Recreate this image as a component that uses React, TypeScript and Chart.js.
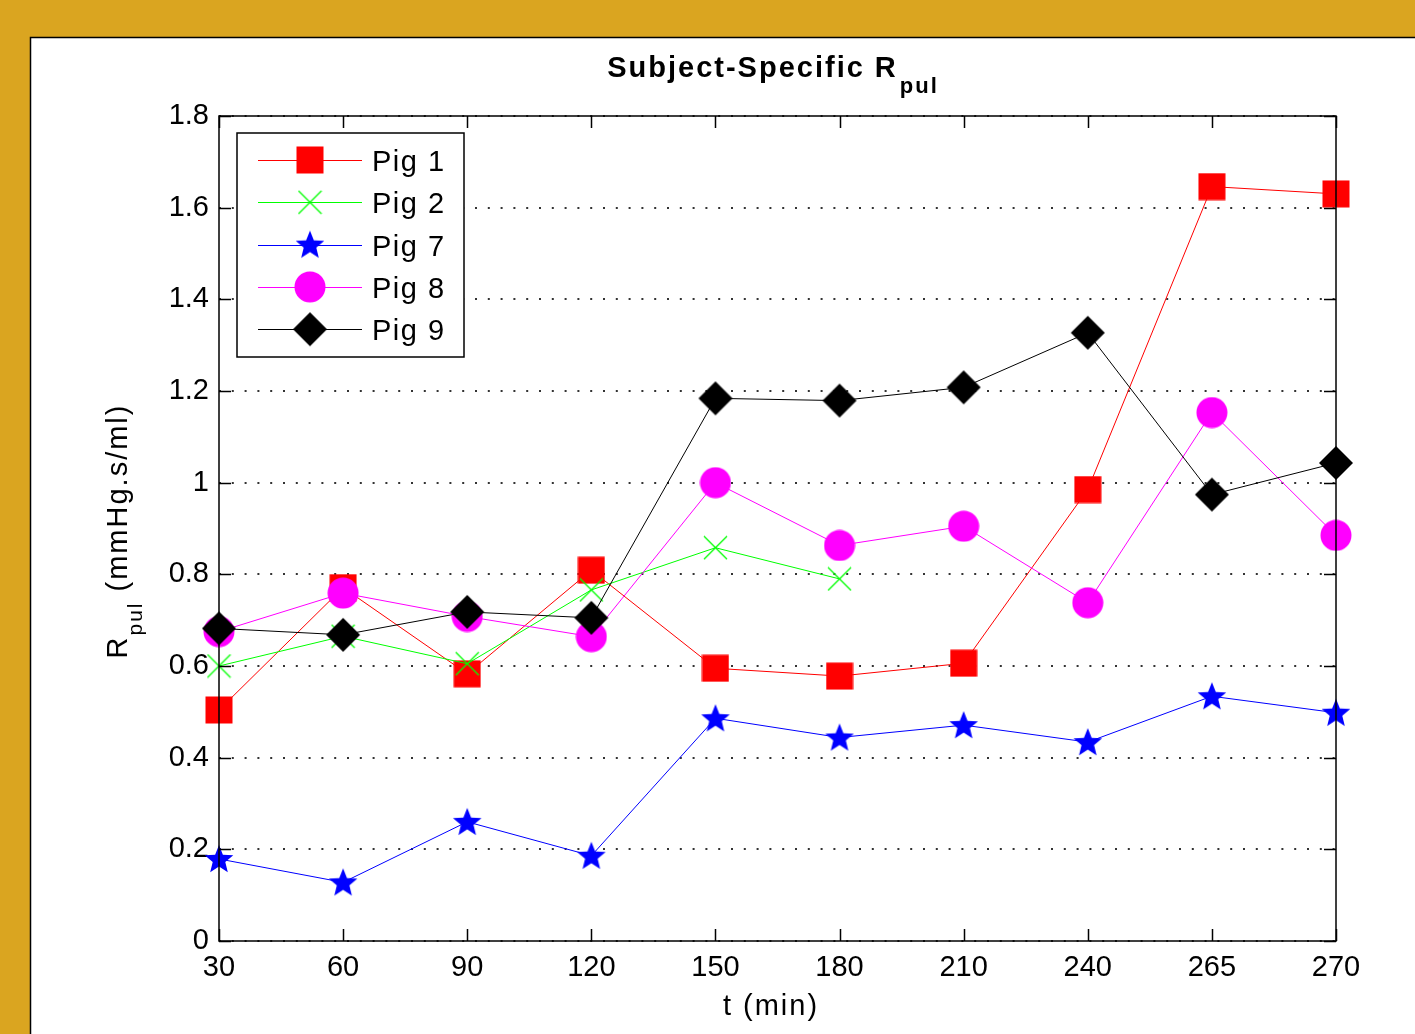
import React, { useEffect, useRef } from 'react';
import { Chart, registerables } from 'chart.js';

Chart.register(...registerables);

// ---- data ----
const timeLabels = ['30', '60', '90', '120', '150', '180', '210', '240', '265', '270'];
const pig1 = [0.504, 0.771, 0.583, 0.809, 0.595, 0.578, 0.606, 0.985, 1.646, 1.630];
const pig2 = [0.600, 0.665, 0.605, 0.766, 0.858, 0.790];
const pig7 = [0.179, 0.128, 0.260, 0.186, 0.486, 0.444, 0.471, 0.434, 0.534, 0.498];
const pig8 = [0.675, 0.759, 0.708, 0.664, 1.000, 0.863, 0.905, 0.738, 1.153, 0.885];
const pig9 = [0.682, 0.668, 0.718, 0.705, 1.184, 1.179, 1.208, 1.327, 0.974, 1.043];
const seriesNames = ['Pig 1', 'Pig 2', 'Pig 7', 'Pig 8', 'Pig 9'];
const seriesColors = ['#ff0000', '#00ff00', '#0000ff', '#ff00ff', '#000000'];
const seriesMarkers = ['square', 'x', 'star', 'circle', 'diamond'];
const yMin = 0;
const yMax = 1.8;
const yStep = 0.2;
const titleMain = 'Subject-Specific R';
const titleSub = 'pul';
const yLabelMain = 'R';
const yLabelSub = 'pul';
const yLabelRest = ' (mmHg.s/ml)';
const xLabel = 't (min)';

const FONT = '"Liberation Sans", Arial, sans-serif';

function makeMarker(kind: string, color: string): HTMLCanvasElement {
  const c = document.createElement('canvas');
  let s = 32;
  if (kind === 'square') s = 28;
  if (kind === 'x') s = 25;
  if (kind === 'diamond') s = 36;
  c.width = s;
  c.height = s;
  const g = c.getContext('2d')!;
  g.fillStyle = color;
  g.strokeStyle = color;
  if (kind === 'square') {
    g.fillRect(0.5, 0.5, s - 1, s - 1);
  } else if (kind === 'x') {
    g.lineWidth = 1.3;
    g.beginPath();
    g.moveTo(1, 1);
    g.lineTo(s - 1, s - 1);
    g.moveTo(s - 1, 1);
    g.lineTo(1, s - 1);
    g.stroke();
  } else if (kind === 'star') {
    const cx = s / 2, cy = s / 2 + 1, R = 15, r = 6.6;
    g.beginPath();
    for (let i = 0; i < 10; i++) {
      const ang = -Math.PI / 2 + (i * Math.PI) / 5;
      const rr = i % 2 === 0 ? R : r;
      const px = cx + rr * Math.cos(ang);
      const py = cy + rr * Math.sin(ang);
      if (i === 0) g.moveTo(px, py);
      else g.lineTo(px, py);
    }
    g.closePath();
    g.fill();
  } else if (kind === 'circle') {
    g.beginPath();
    g.arc(s / 2, s / 2, 15.5, 0, Math.PI * 2);
    g.fill();
  } else if (kind === 'diamond') {
    g.beginPath();
    g.moveTo(s / 2, 1);
    g.lineTo(s - 1, s / 2);
    g.lineTo(s / 2, s - 1);
    g.lineTo(1, s / 2);
    g.closePath();
    g.fill();
  }
  return c;
}

function setSpacing(ctx: any, v: string) {
  if ('letterSpacing' in ctx) ctx.letterSpacing = v;
}

export default function App() {
  const ref = useRef<HTMLCanvasElement>(null);

  useEffect(() => {
    const markers = seriesMarkers.map((m, i) => makeMarker(m, seriesColors[i]));
    const allData = [pig1, pig2, pig7, pig8, pig9];

    const framePlugin = {
      id: 'frame',
      beforeDraw(chart: any) {
        const ctx = chart.ctx;
        ctx.save();
        ctx.fillStyle = '#DAA520';
        ctx.fillRect(0, 0, chart.width, chart.height);
        ctx.fillStyle = '#ffffff';
        ctx.fillRect(30, 37, chart.width - 30, chart.height - 37);
        ctx.strokeStyle = '#000';
        ctx.lineWidth = 1.5;
        ctx.beginPath();
        ctx.moveTo(30.5, chart.height);
        ctx.lineTo(30.5, 37.5);
        ctx.lineTo(chart.width, 37.5);
        ctx.stroke();
        ctx.restore();
      },
    };

    const overlayPlugin = {
      id: 'overlay',
      afterDatasetsDraw(chart: any) {
        const ctx = chart.ctx;
        const a = chart.chartArea;
        const xs = chart.scales.x;
        const ys = chart.scales.y;
        ctx.save();
        // axes box
        ctx.strokeStyle = '#000';
        ctx.lineWidth = 1.5;
        ctx.strokeRect(a.left, a.top, a.right - a.left, a.bottom - a.top);
        // inward ticks
        const tl = 12;
        ctx.beginPath();
        for (let i = 0; i < xs.ticks.length; i++) {
          const px = Math.round(xs.getPixelForTick(i)) + 0.5;
          ctx.moveTo(px, a.bottom);
          ctx.lineTo(px, a.bottom - tl);
          ctx.moveTo(px, a.top);
          ctx.lineTo(px, a.top + tl);
        }
        for (let i = 0; i < ys.ticks.length; i++) {
          const py = Math.round(ys.getPixelForTick(i)) + 0.5;
          ctx.moveTo(a.left, py);
          ctx.lineTo(a.left + tl, py);
          ctx.moveTo(a.right, py);
          ctx.lineTo(a.right - tl, py);
        }
        ctx.stroke();

        // legend
        const lx = a.left + 18, ly = a.top + 17, lw = 227, lh = 224;
        ctx.fillStyle = '#fff';
        ctx.fillRect(lx, ly, lw, lh);
        ctx.lineWidth = 1.5;
        ctx.strokeStyle = '#000';
        ctx.strokeRect(lx, ly, lw, lh);
        ctx.font = `29px ${FONT}`;
        setSpacing(ctx, '1.5px');
        ctx.textBaseline = 'alphabetic';
        ctx.textAlign = 'left';
        for (let i = 0; i < seriesNames.length; i++) {
          const y = ly + 27 + i * 42.3;
          ctx.strokeStyle = seriesColors[i];
          ctx.lineWidth = 1;
          ctx.beginPath();
          ctx.moveTo(lx + 21, Math.round(y) + 0.5);
          ctx.lineTo(lx + 125, Math.round(y) + 0.5);
          ctx.stroke();
          const m = markers[i];
          ctx.drawImage(m, lx + 73 - m.width / 2, y - m.height / 2);
          ctx.fillStyle = '#000';
          ctx.fillText(seriesNames[i], lx + 135, y + 11);
        }
        ctx.restore();
      },
      afterDraw(chart: any) {
        const ctx = chart.ctx;
        const a = chart.chartArea;
        ctx.save();
        ctx.fillStyle = '#000';
        ctx.textBaseline = 'alphabetic';
        ctx.textAlign = 'left';
        // title
        setSpacing(ctx, '2px');
        ctx.font = `bold 29px ${FONT}`;
        const wMain = ctx.measureText(titleMain).width;
        ctx.font = `bold 22px ${FONT}`;
        const wSub = ctx.measureText(titleSub).width;
        const tx = 773 - (wMain + wSub + 2) / 2;
        ctx.font = `bold 29px ${FONT}`;
        ctx.fillText(titleMain, tx, 77);
        ctx.font = `bold 22px ${FONT}`;
        ctx.fillText(titleSub, tx + wMain + 2, 93);

        // x label
        ctx.font = `29px ${FONT}`;
        ctx.textAlign = 'center';
        ctx.fillText(xLabel, 771, 1015);

        // y label
        ctx.textAlign = 'left';
        ctx.font = `29px ${FONT}`;
        const w1 = ctx.measureText(yLabelMain).width;
        const w3 = ctx.measureText(yLabelRest).width;
        ctx.font = `21px ${FONT}`;
        const w2 = ctx.measureText(yLabelSub).width;
        const total = w1 + w2 + w3;
        ctx.translate(127, 531);
        ctx.rotate(-Math.PI / 2);
        let x0 = -total / 2;
        ctx.font = `29px ${FONT}`;
        ctx.fillText(yLabelMain, x0, 0);
        x0 += w1;
        ctx.font = `21px ${FONT}`;
        ctx.fillText(yLabelSub, x0, 15);
        x0 += w2;
        ctx.font = `29px ${FONT}`;
        ctx.fillText(yLabelRest, x0, 0);
        ctx.restore();
      },
    };

    const chart = new Chart(ref.current!, {
      type: 'line',
      data: {
        labels: timeLabels,
        datasets: allData.map((d, i) => ({
          label: seriesNames[i],
          data: d,
          borderColor: seriesColors[i],
          backgroundColor: seriesColors[i],
          borderWidth: 1,
          pointStyle: markers[i] as any,
          pointRadius: 14,
          pointHoverRadius: 14,
          pointBorderWidth: 0,
          tension: 0,
          fill: false,
          clip: false as any,
          order: seriesNames.length - i,
        })),
      },
      options: {
        responsive: false,
        animation: false,
        events: [],
        layout: { padding: { left: 119, top: 116, right: 79, bottom: 33 } },
        plugins: {
          legend: { display: false },
          title: { display: false },
          tooltip: { enabled: false },
        },
        scales: {
          x: {
            type: 'category',
            offset: false,
            grid: { display: false, drawTicks: false },
            border: { display: false },
            ticks: {
              color: '#000',
              font: { family: FONT, size: 29 },
              padding: 10,
              maxRotation: 0,
              autoSkip: false,
            },
            afterFit(scale: any) {
              scale.height = 60;
            },
          },
          y: {
            type: 'linear',
            min: yMin,
            max: yMax,
            grid: {
              display: true,
              drawTicks: false,
              color: '#333',
              lineWidth: 2,
            },
            border: { display: false, dash: [2, 10.8] },
            ticks: {
              stepSize: yStep,
              color: '#000',
              font: { family: FONT, size: 29 },
              padding: 10,
              callback: (v: any) => String(parseFloat(Number(v).toFixed(1))),
            },
            afterFit(scale: any) {
              scale.width = 100;
            },
          },
        },
      },
      plugins: [framePlugin, overlayPlugin],
    } as any);

    return () => chart.destroy();
  }, []);

  return (
    <div style={{ position: 'fixed', left: 0, top: 0, width: 1415, height: 1034, background: '#DAA520' }}>
      <canvas ref={ref} width={1415} height={1034} style={{ display: 'block', width: 1415, height: 1034 }} />
    </div>
  );
}
